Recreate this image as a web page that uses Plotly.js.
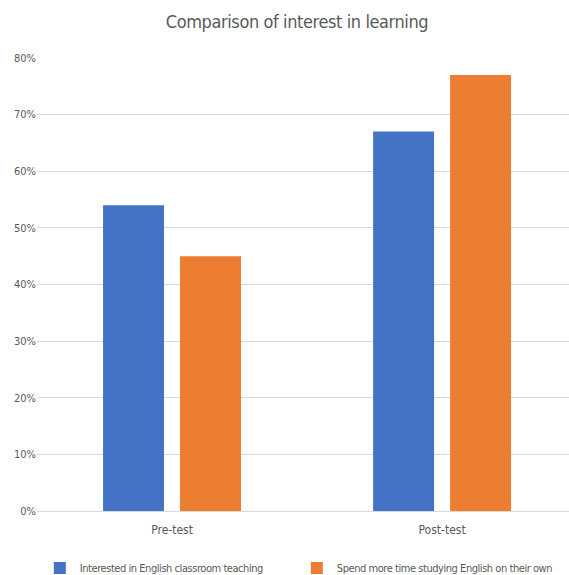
<!DOCTYPE html>
<html><head><meta charset="utf-8">
<script src="https://cdn.plot.ly/plotly-3.0.1.min.js"></script>
<style>html,body{margin:0;padding:0;overflow:hidden;background:#fff}
#chart text{font-stretch:condensed !important;}
#chart .gtitle{letter-spacing:-0.4px;}
#chart .legendtext{letter-spacing:-0.45px;}</style>
</head><body><div id="chart" style="width:569px;height:575px"></div>
<script>
const categories = ["Pre-test", "Post-test"];
const seriesNames = ["Interested in English classroom teaching", "Spend more time studying English on their own"];
const interested = [54, 67];
const spendMore = [45, 77];
const colors = ["#4472C4", "#ED7D31"];
const fontFam = '"DejaVu Sans"';

const traces = [interested, spendMore].map((vals, i) => ({
  type: 'bar', x: categories, y: vals, name: seriesNames[i],
  marker: {color: colors[i], line: {width: 0}}, hoverinfo: 'none'
}));

Plotly.newPlot('chart', traces, {
  width: 569, height: 575,
  margin: {l: 37, r: 0, t: 58, b: 64},
  paper_bgcolor: '#fff', plot_bgcolor: '#fff',
  font: {family: fontFam, color: '#595959', size: 12},
  title: {text: 'Comparison of interest in learning', x: 0.522, xref: 'container', xanchor: 'center', y: 0.962, yanchor: 'middle', font: {size: 18, color: '#595959', family: fontFam}},
  barmode: 'group', bargap: 0.43, bargroupgap: 0.208,
  xaxis: {range: [-0.5, 1.47], showgrid: false, zeroline: false, showline: false, ticks: '', ticklabelstandoff: 10, tickfont: {size: 12, color: '#595959'}, fixedrange: true},
  yaxis: {range: [0, 80], dtick: 10, ticksuffix: '%', showgrid: true, gridcolor: '#d9d9d9', gridwidth: 1, zeroline: true, zerolinecolor: '#d9d9d9', showline: false, ticks: '', tickfont: {size: 11, color: '#595959'}, fixedrange: true},
  showlegend: true,
  legend: {orientation: 'h', x: 0.07, xref: 'container', xanchor: 'left', y: 0.012, yref: 'container', yanchor: 'middle', font: {size: 11, color: '#595959'}, itemwidth: 30, tracegroupgap: 0, entrywidth: 212, entrywidthmode: 'pixels'}
}, {staticPlot: true});
</script></body></html>
